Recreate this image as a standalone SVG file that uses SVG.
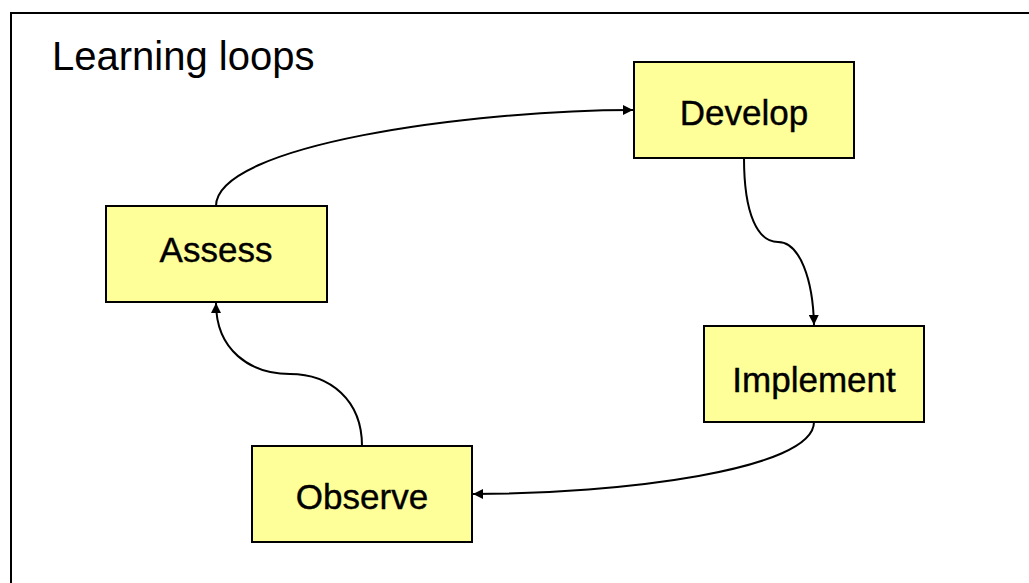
<svg xmlns="http://www.w3.org/2000/svg" width="1029" height="583" viewBox="0 0 1029 583">
<defs>
<style>
.box{fill:#FFFF99;stroke:#000;stroke-width:2}
.lbl{font-family:"Liberation Sans",Arial,sans-serif;font-size:35px;fill:#000;text-anchor:middle;stroke:#000;stroke-width:0.4}
.title{font-family:"Liberation Sans",Arial,sans-serif;font-size:40px;fill:#000}
.conn{fill:none;stroke:#000;stroke-width:2}
</style>
<marker id="arr" viewBox="0 0 10 10" refX="10" refY="5" markerWidth="5" markerHeight="5" orient="auto" markerUnits="strokeWidth">
<path d="M0,0 L10,5 L0,10 z" fill="#000"/>
</marker>
</defs>
<rect x="0" y="0" width="1029" height="583" fill="#fff"/>
<path d="M11,583 L11,13 L1029,13" fill="none" stroke="#000" stroke-width="2"/>
<text class="title" x="52" y="70">Learning loops</text>
<g id="connectors">
<path class="conn" d="M216,206 C216,145 470,110 633,110" marker-end="url(#arr)"/>
<path class="conn" d="M744,158 C744,215 758,242 778,242 C800,242 813,280 814,325" marker-end="url(#arr)"/>
<path class="conn" d="M814,422 C814,470 620,494 473,494" marker-end="url(#arr)"/>
<path class="conn" d="M362,446 C362,400 330,374 290,374 C250,374 216,350 216,303" marker-end="url(#arr)"/>
</g>
<g id="develop"><rect class="box" x="634" y="62" width="220" height="96"/><text class="lbl" x="744" y="125">Develop</text></g>
<g id="implement"><rect class="box" x="704" y="326" width="220" height="96"/><text class="lbl" x="814" y="392">Implement</text></g>
<g id="observe"><rect class="box" x="252" y="446" width="220" height="96"/><text class="lbl" x="362" y="509">Observe</text></g>
<g id="assess"><rect class="box" x="106" y="206" width="221" height="96"/><text class="lbl" x="216" y="262">Assess</text></g>
</svg>
